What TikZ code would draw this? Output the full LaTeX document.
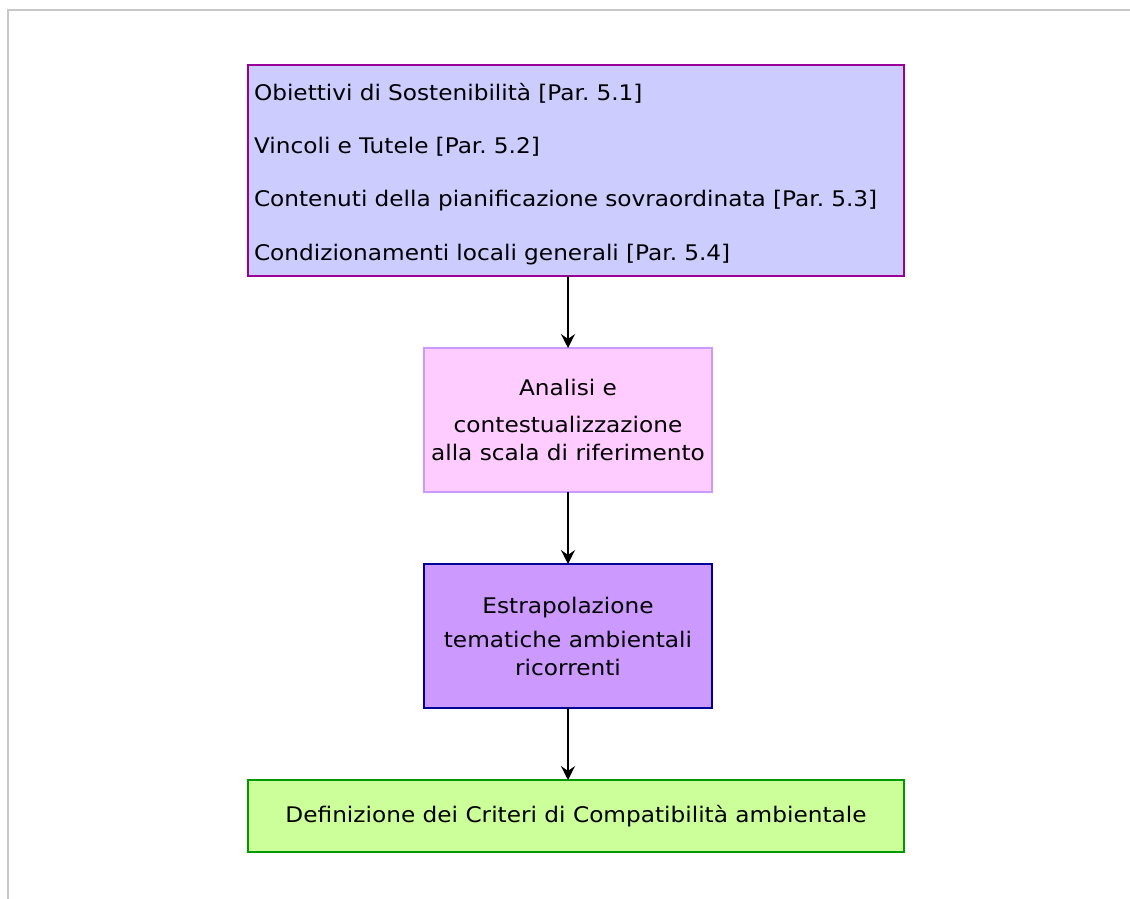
\documentclass[tikz,border=0pt]{standalone}
\usepackage{fontspec}
\setmainfont{DejaVu Sans}[FakeStretch=1.08]
\usetikzlibrary{arrows.meta}
\definecolor{bAfill}{HTML}{CCCCFF}
\definecolor{bAdraw}{HTML}{990099}
\definecolor{bBfill}{HTML}{FFCCFF}
\definecolor{bBdraw}{HTML}{CC99FF}
\definecolor{bCfill}{HTML}{CC99FF}
\definecolor{bCdraw}{HTML}{000099}
\definecolor{bDfill}{HTML}{CCFF99}
\definecolor{bDdraw}{HTML}{009900}
\definecolor{frame}{HTML}{C8C8C8}
\tikzset{
  box/.style={rectangle, line width=1.3pt, inner sep=0pt, outer sep=0pt, text=black},
  conn/.style={line width=1.6pt, -{Stealth[length=14pt,width=14pt,inset=5pt]}},
}
\begin{document}
\frenchspacing
\begin{tikzpicture}[x=1pt,y=-1pt]
\useasboundingbox (0,0) rectangle (1130,899);
\draw[frame, line width=2pt] (8,899) -- (8,10.5) -- (1130,10.5);
\node[box, fill=bAfill, draw=bAdraw, minimum width=656pt, minimum height=211pt,
      text width=644pt, align=left, font=\fontsize{21.5}{53.3}\selectfont]
  (b1) at (576,170.5) {\rule{0pt}{24pt}Obiettivi di Sostenibilità [Par. 5.1]\\Vincoli e Tutele [Par. 5.2]\\Contenuti della pianificazione sovraordinata [Par. 5.3]\\Condizionamenti locali generali [Par. 5.4]};
\node[box, fill=bBfill, draw=bBdraw, minimum width=288pt, minimum height=144pt,
      align=center, font=\fontsize{21.5}{28.5}\selectfont]
  (b2) at (568,420) {Analisi e\\[8.5pt]contestualizzazione\\alla scala di riferimento};
\node[box, fill=bCfill, draw=bCdraw, minimum width=288pt, minimum height=144pt,
      align=center, font=\fontsize{21.5}{28}\selectfont]
  (b3) at (568,636) {Estrapolazione\\[6pt]tematiche ambientali\\ricorrenti};
\node[box, fill=bDfill, draw=bDdraw, minimum width=656pt, minimum height=72pt,
      align=center, font=\fontsize{21.5}{24}\selectfont]
  (b4) at (576,816) {Definizione dei Criteri di Compatibilità ambientale};
\draw[conn] (b1.south -| b2.north) -- (b2.north);
\draw[conn] (b2.south) -- (b3.north);
\draw[conn] (b3.south) -- (b3.south |- b4.north);
\end{tikzpicture}
\end{document}
